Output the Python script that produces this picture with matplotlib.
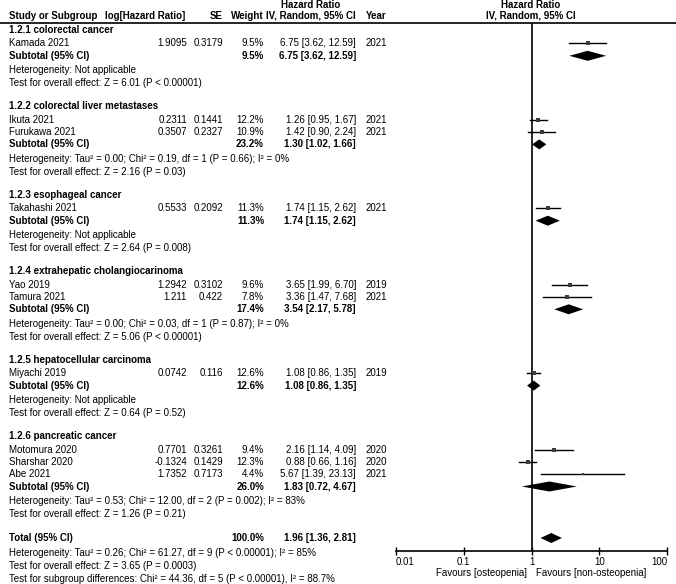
import numpy as np
import matplotlib.pyplot as plt

# Daten der Einzelstudien
group_names = ['1.2.1 colorectal cancer', '1.2.2 colorectal liver metastases',
               '1.2.3 esophageal cancer', '1.2.4 extrahepatic cholangiocarinoma',
               '1.2.5 hepatocellular carcinoma', '1.2.6 pancreatic cancer']
study_names = ['Kamada 2021', 'Ikuta 2021', 'Furukawa 2021', 'Takahashi 2021',
               'Yao 2019', 'Tamura 2021', 'Miyachi 2019', 'Motomura 2020',
               'Sharshar 2020', 'Abe 2021']
study_group = [0, 1, 1, 2, 3, 3, 4, 5, 5, 5]
log_hr = [1.9095, 0.2311, 0.3507, 0.5533, 1.2942, 1.211, 0.0742, 0.7701, -0.1324, 1.7352]
se = [0.3179, 0.1441, 0.2327, 0.2092, 0.3102, 0.422, 0.116, 0.3261, 0.1429, 0.7173]
weight = [9.5, 12.2, 10.9, 11.3, 9.6, 7.8, 12.6, 9.4, 12.3, 4.4]
hr = [6.75, 1.26, 1.42, 1.74, 3.65, 3.36, 1.08, 2.16, 0.88, 5.67]
hr_lo = [3.62, 0.95, 0.90, 1.15, 1.99, 1.47, 0.86, 1.14, 0.66, 1.39]
hr_hi = [12.59, 1.67, 2.24, 2.62, 6.70, 7.68, 1.35, 4.09, 1.16, 23.13]
year = [2021, 2021, 2021, 2021, 2019, 2021, 2019, 2020, 2020, 2021]

# Subtotale je Untergruppe
sub_weight = [9.5, 23.2, 11.3, 17.4, 12.6, 26.0]
sub_hr = [6.75, 1.30, 1.74, 3.54, 1.08, 1.83]
sub_lo = [3.62, 1.02, 1.15, 2.17, 0.86, 0.72]
sub_hi = [12.59, 1.66, 2.62, 5.78, 1.35, 4.67]
sub_het = ['Heterogeneity: Not applicable',
           'Heterogeneity: Tau² = 0.00; Chi² = 0.19, df = 1 (P = 0.66); I² = 0%',
           'Heterogeneity: Not applicable',
           'Heterogeneity: Tau² = 0.00; Chi² = 0.03, df = 1 (P = 0.87); I² = 0%',
           'Heterogeneity: Not applicable',
           'Heterogeneity: Tau² = 0.53; Chi² = 12.00, df = 2 (P = 0.002); I² = 83%']
sub_test = ['Test for overall effect: Z = 6.01 (P < 0.00001)',
            'Test for overall effect: Z = 2.16 (P = 0.03)',
            'Test for overall effect: Z = 2.64 (P = 0.008)',
            'Test for overall effect: Z = 5.06 (P < 0.00001)',
            'Test for overall effect: Z = 0.64 (P = 0.52)',
            'Test for overall effect: Z = 1.26 (P = 0.21)']

# Gesamtergebnis
total_weight = 100.0
total_hr, total_lo, total_hi = 1.96, 1.36, 2.81
total_lines = ['Heterogeneity: Tau² = 0.26; Chi² = 61.27, df = 9 (P < 0.00001); I² = 85%',
               'Test for overall effect: Z = 3.65 (P = 0.0003)',
               'Test for subgroup differences: Chi² = 44.36, df = 5 (P < 0.00001), I² = 88.7%']

ticks = [0.01, 0.1, 1, 10, 100]

plt.rcParams['font.family'] = ['Liberation Sans', 'DejaVu Sans']
fs = 7

W, H = 676, 584
fig = plt.figure(figsize=(W / 100, H / 100), dpi=100)

# Textebene in Pixelkoordinaten
tx = fig.add_axes([0, 0, 1, 1])
tx.set_xlim(0, W)
tx.set_ylim(H, 0)
tx.axis('off')

# Forest-Plot-Achse
x0, x1, y_top, y_ax = 396, 667, 23, 551
ax = fig.add_axes([x0 / W, (H - y_ax) / H, (x1 - x0) / W, (y_ax - y_top) / H])
ax.set_xscale('log')
ax.set_xlim(0.01, 100)
ax.set_ylim(y_ax, y_top)
ax.patch.set_alpha(0)
for s in ['top', 'left', 'right']:
    ax.spines[s].set_visible(False)
ax.spines['bottom'].set_linewidth(1.2)
ax.set_yticks([])
ax.set_xticks(ticks)
ax.set_xticklabels([f'{t:g}' for t in ticks])
ax.minorticks_off()
ax.tick_params(axis='x', direction='inout', length=6, width=1, labelsize=fs, pad=1)
lbls = ax.get_xticklabels()
lbls[0].set_ha('left')
lbls[-1].set_ha('right')
ax.axvline(1, color='black', lw=1.2)

# Spalten
c_name, c_log, c_se, c_w, c_ci, c_year = 9, 187, 223, 264, 356, 366

# Kopfzeilen
tx.text(311, 5, 'Hazard Ratio', ha='center', va='center', fontsize=fs, weight='bold')
tx.text(531, 5, 'Hazard Ratio', ha='center', va='center', fontsize=fs, weight='bold')
hy = 16
tx.text(c_name, hy, 'Study or Subgroup', ha='left', va='center', fontsize=fs, weight='bold')
tx.text(185, hy, 'log[Hazard Ratio]', ha='right', va='center', fontsize=fs, weight='bold')
tx.text(c_se, hy, 'SE', ha='right', va='center', fontsize=fs, weight='bold')
tx.text(c_w, hy, 'Weight', ha='right', va='center', fontsize=fs, weight='bold')
tx.text(311, hy, 'IV, Random, 95% CI', ha='center', va='center', fontsize=fs, weight='bold')
tx.text(c_year, hy, 'Year', ha='left', va='center', fontsize=fs, weight='bold')
tx.text(531, hy, 'IV, Random, 95% CI', ha='center', va='center', fontsize=fs, weight='bold')
tx.plot([0, W], [23, 23], color='black', lw=1.2)


def diamond(y, est, lo, hi, h=5):
    ax.fill([lo, est, hi, est], [y, y - h, y, y + h], color='black', lw=0)


def ci_text(e, l, u):
    return f'{e:.2f} [{l:.2f}, {u:.2f}]'


y = 30
for g, gname in enumerate(group_names):
    tx.text(c_name, y, gname, ha='left', va='center', fontsize=fs, weight='bold')
    y += 13.5
    for i in [k for k, sg in enumerate(study_group) if sg == g]:
        tx.text(c_name, y, study_names[i], ha='left', va='center', fontsize=fs)
        tx.text(c_log, y, str(log_hr[i]), ha='right', va='center', fontsize=fs)
        tx.text(c_se, y, str(se[i]), ha='right', va='center', fontsize=fs)
        tx.text(c_w, y, f'{weight[i]:.1f}%', ha='right', va='center', fontsize=fs)
        tx.text(c_ci, y, ci_text(hr[i], hr_lo[i], hr_hi[i]), ha='right', va='center', fontsize=fs)
        tx.text(c_year, y, str(year[i]), ha='left', va='center', fontsize=fs)
        ax.plot([hr_lo[i], hr_hi[i]], [y, y], color='black', lw=1.0)
        ax.plot(hr[i], y, 's', color='#3c3c3c', ms=0.9 * np.sqrt(weight[i]), mew=0)
        y += 12.3
    tx.text(c_name, y, 'Subtotal (95% CI)', ha='left', va='center', fontsize=fs, weight='bold')
    tx.text(c_w, y, f'{sub_weight[g]:.1f}%', ha='right', va='center', fontsize=fs, weight='bold')
    tx.text(c_ci, y, ci_text(sub_hr[g], sub_lo[g], sub_hi[g]), ha='right', va='center',
            fontsize=fs, weight='bold')
    diamond(y, sub_hr[g], sub_lo[g], sub_hi[g])
    y += 14.5
    tx.text(c_name, y, sub_het[g], ha='left', va='center', fontsize=fs)
    y += 13
    tx.text(c_name, y, sub_test[g], ha='left', va='center', fontsize=fs)
    y += 23

y += 1
tx.text(c_name, y, 'Total (95% CI)', ha='left', va='center', fontsize=fs, weight='bold')
tx.text(c_w, y, f'{total_weight:.1f}%', ha='right', va='center', fontsize=fs, weight='bold')
tx.text(c_ci, y, ci_text(total_hr, total_lo, total_hi), ha='right', va='center',
        fontsize=fs, weight='bold')
diamond(y, total_hr, total_lo, total_hi)
y += 14.5
for line in total_lines:
    tx.text(c_name, y, line, ha='left', va='center', fontsize=fs)
    y += 13

tx.text(527, 573, 'Favours [osteopenia]', ha='right', va='center', fontsize=fs)
tx.text(536, 573, 'Favours [non-osteopenia]', ha='left', va='center', fontsize=fs)

fig.savefig('out.png', dpi=100)
